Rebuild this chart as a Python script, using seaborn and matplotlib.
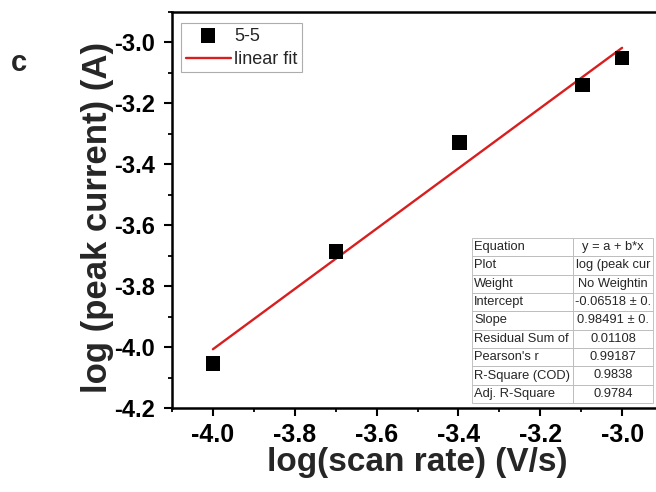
import numpy as np
import pandas as pd
import matplotlib
matplotlib.use("Agg")
import matplotlib.pyplot as plt
import seaborn as sns
from matplotlib.ticker import MultipleLocator, FormatStrFormatter

# ---- data ----
scan_rate_log = [-4.0, -3.699, -3.398, -3.097, -3.0]
peak_current_log = [-4.053, -3.687, -3.329, -3.139, -3.051]
series_name = "5-5"
fit_name = "linear fit"
table_keys = ["Equation", "Plot", "Weight", "Intercept", "Slope",
              "Residual Sum of", "Pearson's r", "R-Square (COD)", "Adj. R-Square"]
table_vals = ["y = a + b*x", "log (peak cur", "No Weightin", "-0.06518 \u00b1 0.",
              "0.98491 \u00b1 0.", "0.01108", "0.99187", "0.9838", "0.9784"]

df = pd.DataFrame({"x": scan_rate_log, "y": peak_current_log})

sns.set_style("ticks")
plt.rcParams['font.family'] = ['Liberation Sans', 'DejaVu Sans']

fig = plt.figure(figsize=(6.56, 4.92), dpi=100)
W, H = 656, 492
ax = fig.add_axes([172 / W, (H - 408) / H, (663 - 172) / W, (408 - 12) / H])

sns.regplot(data=df, x="x", y="y", scatter=False, ci=None, truncate=True,
            color="#d81e1e", line_kws={"lw": 1.7}, ax=ax, label=fit_name)
sns.scatterplot(data=df, x="x", y="y", marker="s", s=110, color="black",
                edgecolor="none", ax=ax, label=series_name, zorder=3)

ax.set_xlim(-4.1, -2.9)
ax.set_ylim(-4.2, -2.9)
ax.xaxis.set_minor_locator(MultipleLocator(0.1))
ax.yaxis.set_minor_locator(MultipleLocator(0.1))
ax.set_xticks([-4.0, -3.8, -3.6, -3.4, -3.2, -3.0])
ax.set_yticks([-4.2, -4.0, -3.8, -3.6, -3.4, -3.2, -3.0])
ax.xaxis.set_major_formatter(FormatStrFormatter("%.1f"))
ax.yaxis.set_major_formatter(FormatStrFormatter("%.1f"))

for s in ["top", "right", "left", "bottom"]:
    ax.spines[s].set_visible(True)
    ax.spines[s].set_linewidth(1.8)
    ax.spines[s].set_color("black")

ax.tick_params(which="both", top=False, right=False)
ax.tick_params(which="major", direction="out", length=6, width=1.5, colors="black")
ax.tick_params(which="minor", direction="out", length=3, width=1.3, colors="black")
ax.tick_params(axis="x", which="major", labelsize=18, pad=5)
ax.tick_params(axis="y", which="major", labelsize=17, pad=6)
for lab in ax.get_xticklabels() + ax.get_yticklabels():
    lab.set_fontweight("bold")

ax.set_xlabel("log(scan rate) (V/s)", fontsize=24, fontweight="bold", labelpad=0)
ax.set_ylabel("log (peak current) (A)", fontsize=25, fontweight="bold")
ax.yaxis.set_label_coords(-0.119, 0.48)

handles, labels = ax.get_legend_handles_labels()
order = [labels.index(series_name), labels.index(fit_name)]
leg = ax.legend([handles[i] for i in order], [labels[i] for i in order],
                loc="upper left", bbox_to_anchor=(9 / 491, 1 - 11 / 396), fontsize=13,
                frameon=True, fancybox=False, edgecolor="#999999",
                handlelength=2.5, handletextpad=0.2, borderpad=0.25,
                labelspacing=0.35, borderaxespad=0, markerscale=1.0)
leg.get_frame().set_linewidth(0.8)

fig.text(11 / W, 1 - 63 / H, "c", fontsize=21, fontweight="bold", va="center", ha="left")

# stats table
tax = fig.add_axes([472 / W, (H - 403) / H, (653 - 472) / W, (403 - 238) / H])
tax.axis("off")
tbl = tax.table(cellText=[[k, v] for k, v in zip(table_keys, table_vals)],
                colWidths=[0.56, 0.44], bbox=[0, 0, 1, 1], cellLoc="left")
tbl.auto_set_font_size(False)
for (r, c), cell in tbl.get_celld().items():
    cell.set_fontsize(9.3)
    cell.set_edgecolor("#b8b8b8")
    cell.set_linewidth(0.6)
    cell.PAD = 0.02
    if c == 1:
        cell.get_text().set_ha("center")
        cell._loc = "center"

fig.savefig("out.png", dpi=100)
